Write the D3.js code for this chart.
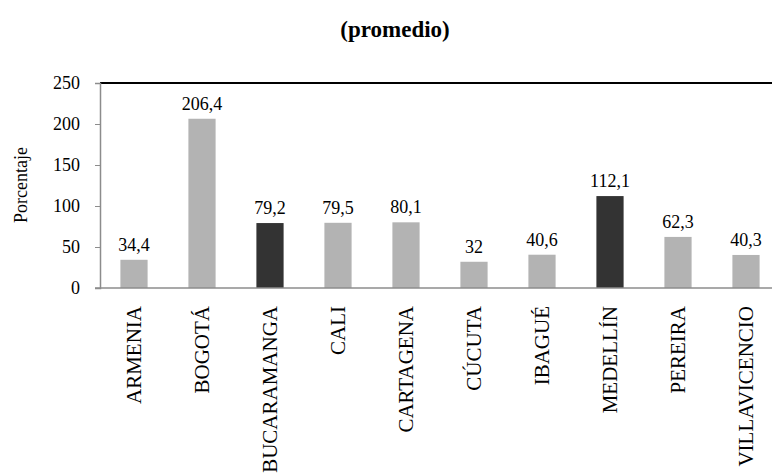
<!DOCTYPE html>
<html>
<head>
<meta charset="utf-8">
<script src="https://cdn.jsdelivr.net/npm/d3@7/dist/d3.min.js"></script>
<style>
  html, body { margin: 0; padding: 0; background: #fff; overflow: hidden; }
  svg { display: block; }
</style>
</head>
<body>
<svg id="chart" width="772" height="473"></svg>
<script>
// Ciudades, valores promedio y ciudades resaltadas
const cities = ["ARMENIA", "BOGOTÁ", "BUCARAMANGA", "CALI", "CARTAGENA", "CÚCUTA", "IBAGUÉ", "MEDELLÍN", "PEREIRA", "VILLAVICENCIO"];
const values = [34.4, 206.4, 79.2, 79.5, 80.1, 32, 40.6, 112.1, 62.3, 40.3];
const highlighted = ["BUCARAMANGA", "MEDELLÍN"];
const yTicks = [0, 50, 100, 150, 200, 250];

const serif = "'Liberation Serif', 'DejaVu Serif', serif";
const svg = d3.select("#chart");
const plotLeft = 100, plotTop = 83, plotBottom = 288, bandW = 68;
const plotRight = plotLeft + bandW * cities.length;

const x = d3.scaleBand().domain(cities).range([plotLeft, plotRight]).paddingInner(0.6).paddingOuter(0.3);
const y = d3.scaleLinear().domain([0, 250]).range([plotBottom, plotTop]);

// Título
svg.append("text")
  .attr("x", 395).attr("y", 37)
  .attr("text-anchor", "middle")
  .style("font-family", serif)
  .style("font-size", "23px").style("font-weight", "bold")
  .text("(promedio)");

// Borde superior del área de trazado
svg.append("line")
  .attr("x1", plotLeft).attr("x2", 772)
  .attr("y1", plotTop).attr("y2", plotTop)
  .attr("stroke", "#000").attr("stroke-width", 2);

// Barras
svg.append("g").selectAll("rect")
  .data(cities)
  .join("rect")
  .attr("x", d => x(d))
  .attr("width", x.bandwidth())
  .attr("y", (d, i) => y(values[i]))
  .attr("height", (d, i) => y(0) - y(values[i]))
  .attr("fill", d => highlighted.includes(d) ? "#333333" : "#b3b3b3");

// Etiquetas de valor
svg.append("g").selectAll("text")
  .data(cities)
  .join("text")
  .attr("x", d => x(d) + x.bandwidth() / 2)
  .attr("y", (d, i) => y(values[i]) - 9)
  .attr("text-anchor", "middle")
  .style("font-family", serif)
  .style("font-size", "18px")
  .text((d, i) => String(values[i]).replace(".", ","));

// Eje Y
const yAxis = svg.append("g")
  .attr("transform", `translate(${plotLeft},0)`)
  .call(d3.axisLeft(y).tickValues(yTicks).tickSize(5).tickPadding(15));
yAxis.select(".domain").attr("stroke", "#8c8c8c").attr("stroke-width", 1.5);
yAxis.selectAll(".tick line").attr("stroke", "#8c8c8c");
yAxis.selectAll(".tick text")
  .attr("fill", "#000")
  .style("font-size", "18px")
  .style("font-family", serif);

// Eje X
const xAxis = svg.append("g")
  .attr("transform", `translate(0,${plotBottom})`)
  .call(d3.axisBottom(x).tickSize(0).tickPadding(0));
xAxis.select(".domain").remove();
svg.append("line")
  .attr("x1", plotLeft - 5).attr("x2", 772)
  .attr("y1", plotBottom).attr("y2", plotBottom)
  .attr("stroke", "#8c8c8c").attr("stroke-width", 1.5);
xAxis.selectAll(".tick text")
  .attr("transform", "rotate(-90)")
  .attr("text-anchor", "end")
  .attr("x", -18)
  .attr("y", 0)
  .attr("dy", "0.35em")
  .attr("fill", "#000")
  .style("font-size", "21px")
  .style("font-family", serif);

// Título del eje Y
svg.append("text")
  .attr("transform", "translate(21,185) rotate(-90)")
  .attr("text-anchor", "middle")
  .attr("dy", "0.35em")
  .style("font-family", serif)
  .style("font-size", "18px")
  .text("Porcentaje");
</script>
</body>
</html>
